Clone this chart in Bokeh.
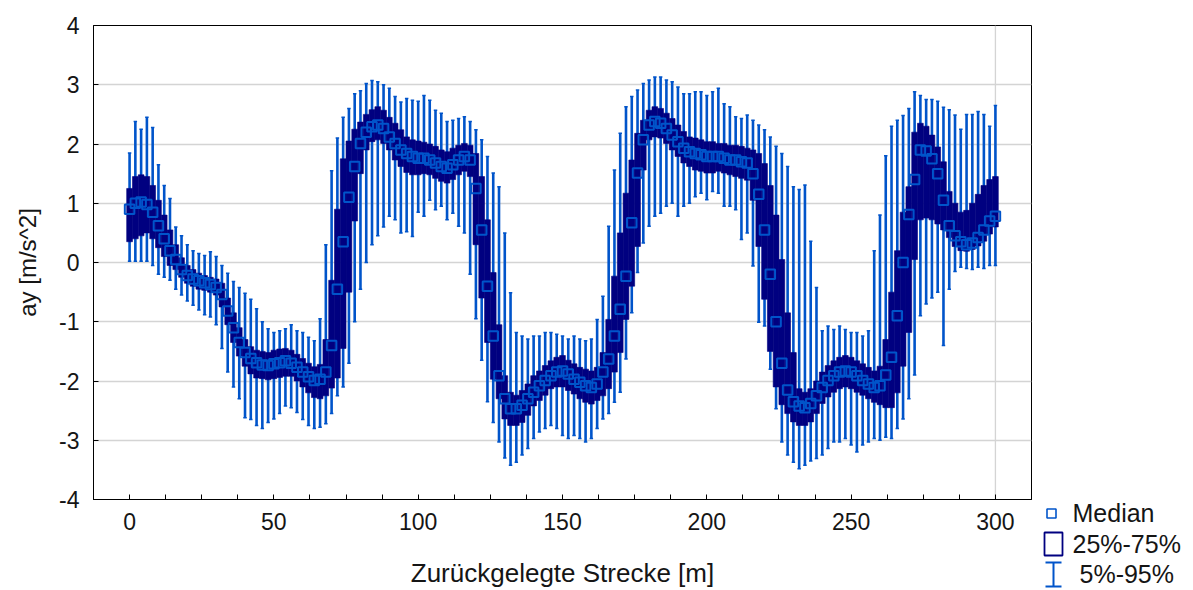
from bokeh.plotting import figure
from bokeh.layouts import row
from bokeh.models import (Range1d, FixedTicker, Span, CustomJSTickFormatter,
                          ColumnDataSource)
from bokeh.core.properties import value
from bokeh.embed import file_html
from bokeh.resources import INLINE

# ---------------- data ----------------
distance = list(range(0, 301, 2))  # Zurückgelegte Strecke [m]

median = [
    0.90, 1.00, 1.02, 0.98, 0.85, 0.62, 0.40, 0.20, 0.05, -0.12,
    -0.22, -0.28, -0.31, -0.34, -0.37, -0.42, -0.54, -0.82, -1.10, -1.35,
    -1.52, -1.62, -1.69, -1.73, -1.74, -1.71, -1.69, -1.66, -1.70, -1.77,
    -1.85, -1.93, -1.99, -1.97, -1.85, -1.40, -0.45, 0.35, 1.10, 1.62,
    2.01, 2.20, 2.29, 2.32, 2.26, 2.12, 2.01, 1.90, 1.84, 1.79,
    1.76, 1.76, 1.73, 1.68, 1.62, 1.59, 1.65, 1.73, 1.79, 1.73,
    1.25, 0.55, -0.40, -1.24, -1.91, -2.30, -2.47, -2.47, -2.41, -2.30,
    -2.19, -2.08, -1.99, -1.91, -1.85, -1.83, -1.88, -1.97, -2.02, -2.08,
    -2.11, -2.05, -1.85, -1.63, -1.24, -0.79, -0.23, 0.67, 1.51, 2.07,
    2.32, 2.38, 2.35, 2.26, 2.15, 2.04, 1.93, 1.87, 1.84, 1.82,
    1.79, 1.79, 1.79, 1.76, 1.73, 1.73, 1.70, 1.68, 1.50, 1.15,
    0.55, -0.20, -1.00, -1.70, -2.15, -2.35, -2.42, -2.45, -2.38, -2.25,
    -2.11, -1.99, -1.91, -1.85, -1.83, -1.85, -1.91, -1.99, -2.05, -2.11,
    -2.08, -1.90, -1.60, -0.90, 0.00, 0.81, 1.40, 1.90, 1.88, 1.75,
    1.50, 1.05, 0.62, 0.45, 0.35, 0.30, 0.33, 0.42, 0.55, 0.70,
    0.78]

q25 = [
    0.35, 0.40, 0.45, 0.50, 0.40, 0.25, 0.10, -0.05, -0.12, -0.25,
    -0.35, -0.40, -0.45, -0.47, -0.50, -0.55, -0.75, -1.05, -1.35, -1.58,
    -1.75, -1.88, -1.95, -1.96, -1.98, -1.96, -1.94, -1.92, -1.92, -2.00,
    -2.10, -2.20, -2.28, -2.30, -2.25, -2.12, -1.95, -1.45, -0.50, 0.70,
    1.50, 1.90, 2.04, 2.07, 2.01, 1.90, 1.73, 1.62, 1.52, 1.48,
    1.48, 1.50, 1.48, 1.42, 1.37, 1.34, 1.40, 1.48, 1.54, 1.45,
    0.30, -0.60, -1.35, -1.97, -2.30, -2.64, -2.75, -2.75, -2.70, -2.58,
    -2.42, -2.33, -2.24, -2.13, -2.10, -2.10, -2.16, -2.22, -2.30, -2.36,
    -2.39, -2.33, -2.25, -2.13, -1.85, -1.52, -0.96, -0.40, 0.27, 1.56,
    2.07, 2.12, 2.10, 2.01, 1.90, 1.79, 1.68, 1.62, 1.56, 1.54,
    1.51, 1.51, 1.54, 1.51, 1.48, 1.45, 1.42, 1.39, 1.05, 0.27,
    -0.62, -1.50, -2.10, -2.40, -2.55, -2.69, -2.75, -2.75, -2.69, -2.55,
    -2.38, -2.27, -2.19, -2.13, -2.10, -2.13, -2.19, -2.24, -2.30, -2.36,
    -2.40, -2.45, -2.45, -2.20, -1.75, -1.18, 0.05, 0.72, 0.75, 0.72,
    0.65, 0.55, 0.42, 0.27, 0.20, 0.19, 0.22, 0.28, 0.36, 0.48,
    0.60]

q75 = [
    1.25, 1.45, 1.48, 1.45, 1.30, 1.05, 0.80, 0.55, 0.30, 0.08,
    -0.05, -0.12, -0.18, -0.22, -0.25, -0.28, -0.35, -0.60, -0.85, -1.10,
    -1.30, -1.42, -1.48, -1.50, -1.52, -1.48, -1.46, -1.45, -1.48, -1.55,
    -1.62, -1.70, -1.76, -1.72, -1.30, -0.30, 0.90, 1.75, 2.05, 2.25,
    2.37, 2.50, 2.58, 2.63, 2.57, 2.45, 2.35, 2.24, 2.12, 2.07,
    2.05, 2.03, 2.00, 1.96, 1.90, 1.87, 1.93, 1.98, 2.01, 1.98,
    1.84, 1.45, 0.72, -0.17, -1.05, -1.91, -2.19, -2.24, -2.16, -2.05,
    -1.91, -1.83, -1.74, -1.66, -1.60, -1.57, -1.65, -1.71, -1.77, -1.80,
    -1.83, -1.77, -1.52, -0.96, -0.23, 0.50, 1.17, 1.73, 2.18, 2.40,
    2.57, 2.63, 2.60, 2.52, 2.43, 2.32, 2.21, 2.12, 2.10, 2.07,
    2.04, 2.04, 2.01, 2.01, 1.98, 1.98, 1.96, 1.93, 1.90, 1.84,
    1.67, 1.30, 0.80, 0.05, -0.85, -1.52, -2.13, -2.19, -2.13, -2.00,
    -1.85, -1.74, -1.66, -1.60, -1.57, -1.60, -1.66, -1.71, -1.77, -1.83,
    -1.75, -1.30, -0.50, 0.20, 0.85, 1.28, 2.20, 2.35, 2.30, 2.15,
    1.95, 1.70, 1.20, 1.00, 0.85, 0.88, 1.00, 1.15, 1.30, 1.40,
    1.45]

p05 = [
    0.02, 0.02, 0.02, 0.02, -0.05, -0.20, -0.25, -0.30, -0.45, -0.55,
    -0.65, -0.72, -0.80, -0.88, -0.92, -1.05, -1.45, -1.85, -2.10, -2.30,
    -2.62, -2.65, -2.75, -2.80, -2.70, -2.64, -2.55, -2.42, -2.45, -2.53,
    -2.65, -2.75, -2.80, -2.78, -2.72, -2.55, -2.25, -2.10, -1.70, -1.00,
    -0.45, 0.00, 0.30, 0.45, 0.60, 0.78, 0.72, 0.50, 0.52, 0.44,
    0.85, 0.78, 1.05, 0.89, 0.95, 0.72, 0.83, 0.61, 0.50, -0.20,
    -0.95, -1.65, -2.35, -2.70, -3.03, -3.30, -3.42, -3.37, -3.25, -3.14,
    -2.97, -2.86, -2.80, -2.75, -2.80, -2.92, -2.97, -2.92, -2.97, -3.03,
    -2.97, -2.80, -2.64, -2.55, -2.36, -2.19, -1.63, -0.85, -0.17, 0.33,
    0.61, 0.78, 0.83, 0.95, 1.00, 0.78, 0.95, 1.00, 1.11, 1.17,
    1.06, 1.20, 1.17, 0.95, 0.95, 0.89, 0.39, 0.50, -0.06, -1.01,
    -1.07, -1.80, -2.47, -3.03, -3.25, -3.37, -3.48, -3.42, -3.35, -3.31,
    -3.25, -3.14, -3.03, -3.03, -2.97, -3.08, -3.20, -3.08, -3.03, -2.97,
    -3.00, -2.95, -2.97, -2.80, -2.64, -2.30, -1.90, -0.90, -0.70, -0.60,
    -0.50, -1.40, -0.45, -0.15, -0.08, -0.10, -0.12, -0.08, -0.10, -0.05,
    -0.05]

p95 = [
    1.85, 2.38, 2.25, 2.45, 2.28, 1.65, 1.30, 1.08, 0.60, 0.45,
    0.30, 0.20, 0.15, 0.12, 0.18, 0.10, -0.05, -0.18, -0.32, -0.42,
    -0.52, -0.62, -0.78, -1.00, -1.12, -1.18, -1.15, -1.12, -1.05, -1.15,
    -1.18, -1.26, -1.32, -0.95, 0.30, 1.55, 2.10, 2.45, 2.60, 2.85,
    2.90, 3.02, 3.07, 3.05, 3.00, 2.94, 2.80, 2.71, 2.77, 2.74,
    2.72, 2.82, 2.74, 2.57, 2.52, 2.38, 2.40, 2.43, 2.46, 2.38,
    2.24, 2.07, 1.79, 1.51, 1.28, 0.50, -0.51, -1.18, -1.24, -1.29,
    -1.24, -1.24, -1.18, -1.18, -1.21, -1.24, -1.29, -1.24, -1.29, -1.32,
    -1.29, -0.96, -0.57, 0.61, 1.56, 2.18, 2.63, 2.80, 2.91, 3.02,
    3.08, 3.13, 3.13, 3.08, 3.05, 2.96, 2.85, 2.85, 2.88, 2.88,
    2.82, 2.88, 2.94, 2.68, 2.63, 2.46, 2.43, 2.49, 2.40, 2.32,
    2.24, 2.12, 1.96, 1.84, 1.62, 1.28, 1.23, 1.31, 0.36, -0.42,
    -1.15, -1.07, -1.13, -1.07, -1.13, -1.18, -1.18, -1.24, -1.15, 0.20,
    0.80, 1.80, 2.30, 2.40, 2.48, 2.60, 2.88, 2.82, 2.75, 2.75,
    2.72, 2.62, 2.58, 2.49, 2.25, 2.50, 2.50, 2.55, 2.50, 2.30,
    2.65]

x_ticks = [0, 50, 100, 150, 200, 250, 300]
x_minor_ticks = [-12.5, 12.5, 25, 37.5, 62.5, 75, 87.5, 112.5, 125, 137.5,
                 162.5, 175, 187.5, 212.5, 225, 237.5, 262.5, 275, 287.5, 312.5]
y_ticks = [-4, -3, -2, -1, 0, 1, 2, 3, 4]

x_title = "Zurückgelegte Strecke [m]"
y_title = "ay [m/s^2]"
legend_labels = ["Median", "25%-75%", "5%-95%"]

# ---------------- styling ----------------
BLUE = "#0054CA"
NAVY = "#000080"
FONT = "Liberation Sans"
TXT = "#151515"

source = ColumnDataSource(dict(
    x=distance, med=median, lo=q25, hi=q75, p05=p05, p95=p95,
    xl=[d - 0.6 for d in distance], xr=[d + 0.6 for d in distance],
))

p = figure(width=1040, height=590,
           x_range=Range1d(-12.5, 312.5), y_range=Range1d(-4, 4),
           output_backend="svg", toolbar_location=None,
           min_border_left=93, min_border_right=9,
           min_border_top=25, min_border_bottom=90)
p.frame_align = False

p.background_fill_color = "white"
p.border_fill_color = "white"
p.outline_line_color = "black"
p.outline_line_width = 1

# grid
p.xgrid.grid_line_color = None
p.ygrid.grid_line_color = "#d4d4d4"
p.ygrid.grid_line_width = 1.3
p.add_layout(Span(location=300, dimension="height", line_color="#d4d4d4",
                  line_width=1.3, level="underlay"))

# axes
fmt = CustomJSTickFormatter(code="return tick.toString();")
p.xaxis.ticker = FixedTicker(ticks=x_ticks, minor_ticks=x_minor_ticks)
p.yaxis.ticker = FixedTicker(ticks=y_ticks)
p.xaxis.formatter = fmt
p.yaxis.formatter = fmt
for ax in (p.xaxis[0], p.yaxis[0]):
    ax.axis_line_color = "black"
    ax.major_tick_line_color = "black"
    ax.major_tick_in = 5
    ax.major_tick_out = 0
    ax.minor_tick_in = 5
    ax.minor_tick_out = 0
    ax.major_label_text_font = FONT
    ax.major_label_text_font_size = "23px"
    ax.major_label_text_color = TXT
    ax.axis_label_text_font = FONT
    ax.axis_label_text_font_style = "normal"
    ax.axis_label_text_color = TXT
p.yaxis.minor_tick_line_color = None
p.xaxis.minor_tick_line_color = "black"
p.xaxis.major_label_standoff = 13
p.yaxis.major_label_standoff = 14
p.xaxis.axis_label = x_title
p.yaxis.axis_label = y_title
p.xaxis.axis_label_text_font_size = "26px"
p.yaxis.axis_label_text_font_size = "24px"
p.xaxis.axis_label_standoff = 25
p.yaxis.axis_label_standoff = 15

# whiskers (5%-95%)
p.segment(x0="x", y0="p05", x1="x", y1="p95", source=source,
          line_color=BLUE, line_width=2.6)
p.segment(x0="xl", y0="p95", x1="xr", y1="p95", source=source,
          line_color=BLUE, line_width=1.5)
p.segment(x0="xl", y0="p05", x1="xr", y1="p05", source=source,
          line_color=BLUE, line_width=1.5)
# boxes (25%-75%)
p.vbar(x="x", width=2.0, bottom="lo", top="hi", source=source,
       fill_color=NAVY, line_color=NAVY, line_width=0.6)
# medians
p.scatter(x="x", y="med", source=source, marker="square", size=9.5,
          fill_color=None, line_color=BLUE, line_width=2.0)

# ---------------- legend panel (coordinates in pixels of the page) ----------------
lg = figure(width=150, height=590, x_range=Range1d(1040, 1190),
            y_range=Range1d(590, 0), output_backend="svg",
            toolbar_location=None, x_axis_type=None, y_axis_type=None,
            min_border_left=0, min_border_right=0, min_border_top=0,
            min_border_bottom=0)
lg.frame_align = False
lg.outline_line_color = None
lg.grid.visible = False
lg.background_fill_color = "white"
lg.border_fill_color = "white"

lg.scatter(x=[1051], y=[513], marker="square", size=9,
           fill_color=None, line_color=BLUE, line_width=1.6)
lg.quad(left=[1044], right=[1062], top=[532], bottom=[555],
        fill_color="white", fill_alpha=0.0, line_color=NAVY, line_width=1.8)
lg.segment(x0=[1053, 1045, 1045], y0=[562, 562, 586],
           x1=[1053, 1061, 1061], y1=[586, 562, 586],
           line_color=BLUE, line_width=2)
lg.text(x=[1072, 1072, 1079], y=[512, 543, 573], text=legend_labels,
        text_font=value(FONT), text_font_size="25px", text_color=TXT,
        text_baseline="middle", text_align="left")

layout = row(p, lg, spacing=0)
open("out.html", "w").write(file_html(layout, INLINE))
